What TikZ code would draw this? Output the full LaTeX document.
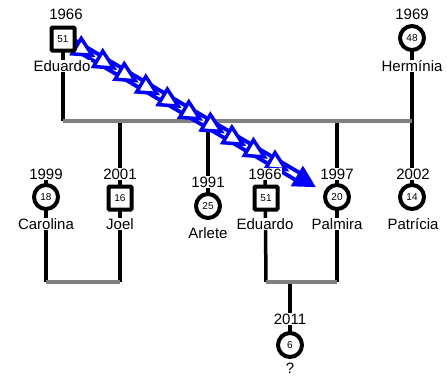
\documentclass[tikz,border=0pt]{standalone}
\usepackage{fontspec}
\setmainfont{Liberation Sans}
\usetikzlibrary{decorations.markings}
\begin{document}
\begin{tikzpicture}[x=1pt,y=-1pt,
  txt/.style={fill=white,inner sep=0.5pt,font=\fontsize{15}{17}\selectfont},
  fem/.style={circle,draw=black,line width=4pt,fill=white,minimum size=24pt,inner sep=0pt,font=\fontsize{10}{11}\selectfont},
  mal/.style={rectangle,draw=black,line width=4pt,fill=white,minimum size=23pt,inner sep=0pt,rounded corners=1pt,font=\fontsize{10}{11}\selectfont},
  vline/.style={line width=3.5pt,black},
  gline/.style={line width=4pt,gray},
  relarrow/.style={blue,line width=4pt,double=white,double distance=4pt,
    postaction={decorate},
    decoration={markings,
      mark=between positions 0.07 and 0.95 step 25pt with {\draw[blue,line width=3.5pt,fill=white,line join=miter] (-9,-9) -- (9,0) -- (-9,9) -- cycle;},
      mark=at position 1 with {\fill[blue] (-6,-12) -- (16,0) -- (-6,12) -- cycle;}}}]
\useasboundingbox (0,0) rectangle (447,378);

% positions
\coordinate (c1) at (63,39);
\coordinate (c2) at (412,38);
\coordinate (c3) at (46,197);
\coordinate (c4) at (120,198);
\coordinate (c5) at (208,206);
\coordinate (c6) at (266,198);
\coordinate (c7) at (337,197);
\coordinate (c8) at (412,197);
\coordinate (c9) at (290,345);
\coordinate (t3) at (46,174);
\coordinate (t6) at (265,174);

% junction coordinates
\coordinate (u1) at (63,121);
\coordinate (u2) at (412,121);
\coordinate (d4) at (120,121);
\coordinate (d5) at (208,121);
\coordinate (d7) at (337,121);
\coordinate (b3) at (46,282);
\coordinate (b4) at (120,282);
\coordinate (b6) at (266,282);
\coordinate (b7) at (337,282);
\coordinate (b9) at (290,282);

\draw[vline] (c1) -- (u1);
\draw[vline] (c2) -- (c8);
\draw[vline] (d4) -- (b4);
\draw[vline] (d5) -- (c5);
\draw[vline] (d7) -- (b7);
\draw[vline] (t3) -- (b3);
\draw[vline] (t6) -- (b6);
\draw[vline] (b9) -- (c9);
\draw[gline] (u1) -- (u2);
\draw[gline] (b3) -- (b4);
\draw[gline] (b6) -- (b7);

\coordinate (a1) at (68,41);
\coordinate (a2) at (302,179);
\draw[relarrow] (a1) -- (a2);

% people
\node[txt] (y1) at (66,14) {1966};
\node[mal] (p1) at (c1) {51};
\node[txt] (l1) at (62,66) {Eduardo};
\node[txt] (y2) at (412,14) {1969};
\node[fem] (p2) at (c2) {48};
\node[txt] (l2) at (412,66) {Hermínia};

\node[txt] (y3) at (t3) {1999};
\node[fem] (p3) at (c3) {18};
\node[txt] (l3) at (46,224) {Carolina};
\node[txt] (y4) at (120,174) {2001};
\node[mal] (p4) at (c4) {16};
\node[txt] (l4) at (120,224) {Joel};
\node[txt] (y5) at (208,182) {1991};
\node[fem] (p5) at (c5) {25};
\node[txt] (l5) at (208,233) {Arlete};
\node[txt] (y6) at (t6) {1966};
\node[mal] (p6) at (c6) {51};
\node[txt] (l6) at (265,224) {Eduardo};
\node[txt] (y7) at (337,174) {1997};
\node[fem] (p7) at (c7) {20};
\node[txt] (l7) at (337,224) {Palmira};
\node[txt] (y8) at (413,174) {2002};
\node[fem] (p8) at (c8) {14};
\node[txt] (l8) at (413,224) {Patrícia};
\node[txt] (y9) at (290,319) {2011};
\node[fem] (p9) at (c9) {6};
\node[txt] (l9) at (290,368) {?};
\end{tikzpicture}
\end{document}
